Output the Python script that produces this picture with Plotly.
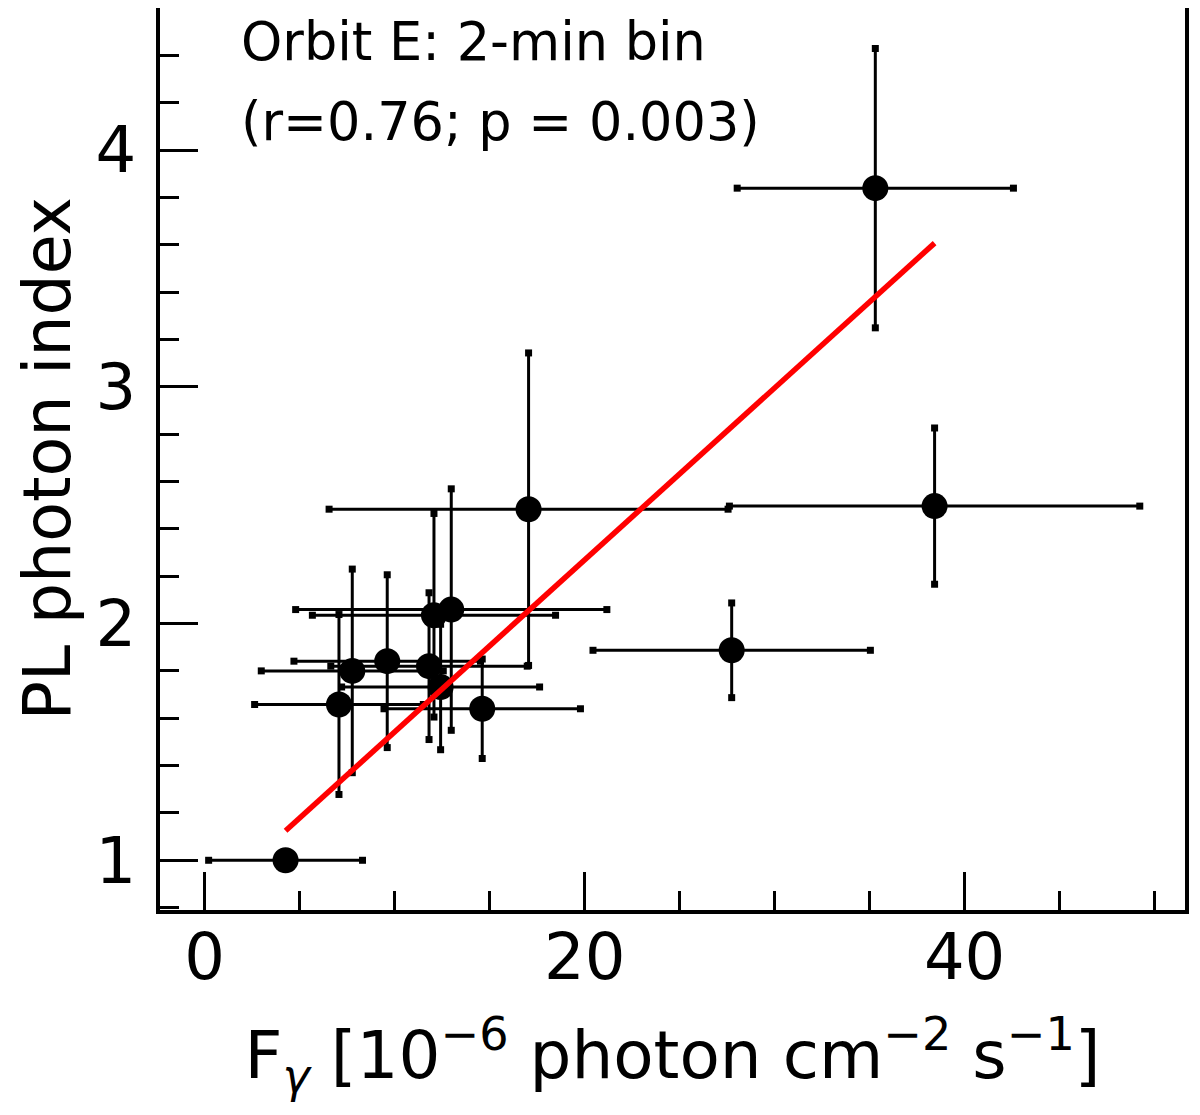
import numpy as np
import plotly.graph_objects as go

# --- Data: Orbit E, 2-min bins ---
FLUX = [4.26, 7.07, 7.77, 9.61, 11.81, 12.07, 12.42, 12.98, 14.61, 17.05, 27.74, 35.30, 38.42]
FLUX_ERR = [4.05, 4.44, 4.79, 4.91, 5.17, 6.40, 5.21, 8.19, 5.17, 10.50, 7.30, 7.27, 10.80]
INDEX = [1.00, 1.658, 1.80, 1.841, 1.82, 2.035, 1.732, 2.059, 1.64, 2.483, 1.887, 3.839, 2.496]
INDEX_ERR = [0.0, 0.38, 0.43, 0.365, 0.31, 0.43, 0.265, 0.51, 0.21, 0.66, 0.20, 0.59, 0.33]

# linear fit (endpoints over the data span)
FIT_X = [4.26, 38.42]
FIT_Y = [1.125, 3.607]

X_TICKS = [0, 20, 40]
Y_TICKS = [1, 2, 3, 4]

FONT = "DejaVu Sans, Liberation Sans, sans-serif"

x = np.array(FLUX)
xe = np.array(FLUX_ERR)
y = np.array(INDEX)
ye = np.array(INDEX_ERR)

fig = go.Figure()

# error bars (no plotly caps, square caps added below)
fig.add_trace(go.Scatter(
    x=x, y=y,
    mode='markers',
    marker=dict(size=1, color='black', opacity=0),
    error_x=dict(type='data', array=xe, color='black', thickness=3, width=0),
    error_y=dict(type='data', array=ye, color='black', thickness=3, width=0),
    showlegend=False,
    hoverinfo='skip',
))

# square caps at the end of every bar
cap_x = np.concatenate([x - xe, x + xe, x, x])
cap_y = np.concatenate([y, y, y - ye, y + ye])
fig.add_trace(go.Scatter(
    x=cap_x, y=cap_y,
    mode='markers',
    marker=dict(symbol='square', size=7, color='black', line=dict(width=0)),
    showlegend=False,
    hoverinfo='skip',
))

# data points
fig.add_trace(go.Scatter(
    x=x, y=y,
    mode='markers',
    marker=dict(size=26, color='black', line=dict(width=0)),
    showlegend=False,
))

# correlation line
fig.add_trace(go.Scatter(
    x=FIT_X, y=FIT_Y,
    mode='lines',
    line=dict(color='#ff0000', width=5.5),
    showlegend=False,
))

axis_common = dict(
    showline=True,
    linecolor='black',
    linewidth=4,
    mirror=True,
    showgrid=False,
    zeroline=False,
    ticks='inside',
    ticklen=38,
    tickwidth=3,
    tickcolor='black',
    tickfont=dict(size=64, color='black', family=FONT),
)

fig.update_xaxes(
    range=[-2.35, 51.6],
    tickvals=X_TICKS,
    ticklabelstandoff=-12,
    minor=dict(dtick=5, tick0=0, ticks='inside', ticklen=19, tickwidth=3, tickcolor='black'),
    title=dict(
        text="F<sub><i>γ</i></sub> [10<sup>−6</sup> photon cm<sup>−2</sup> s<sup>−1</sup>]",
        font=dict(size=66, color='black', family=FONT),
        standoff=40,
    ),
    **axis_common,
)

fig.update_yaxes(
    range=[0.79, 4.60],
    tickvals=Y_TICKS,
    ticklabelstandoff=7,
    minor=dict(dtick=0.2, tick0=0, ticks='inside', ticklen=19, tickwidth=3, tickcolor='black'),
    **axis_common,
)

text_font = dict(size=52.5, color='black', family=FONT)

# page body has an 8px offset, so the figure is 8px smaller than the window
fig.update_layout(
    width=1192,
    height=1107,
    paper_bgcolor='white',
    plot_bgcolor='white',
    font=dict(family=FONT, color='black'),
    margin=dict(l=152, r=15, t=0, b=205, autoexpand=False),
    annotations=[
        dict(
            text="Orbit E: 2-min bin",
            xref='paper', yref='paper',
            x=0.077, y=0.963,
            xanchor='left', yanchor='middle',
            showarrow=False,
            font=text_font,
        ),
        dict(
            text="(r=0.76; p = 0.003)",
            xref='paper', yref='paper',
            x=0.077, y=0.874,
            xanchor='left', yanchor='middle',
            showarrow=False,
            font=text_font,
        ),
        # y-axis title
        dict(
            text="PL photon index",
            xref='paper', yref='paper',
            x=-0.110, y=0.5,
            xanchor='center', yanchor='middle',
            textangle=-90,
            showarrow=False,
            font=dict(size=65, color='black', family=FONT),
        ),
    ],
)

fig.write_html("out.html")
